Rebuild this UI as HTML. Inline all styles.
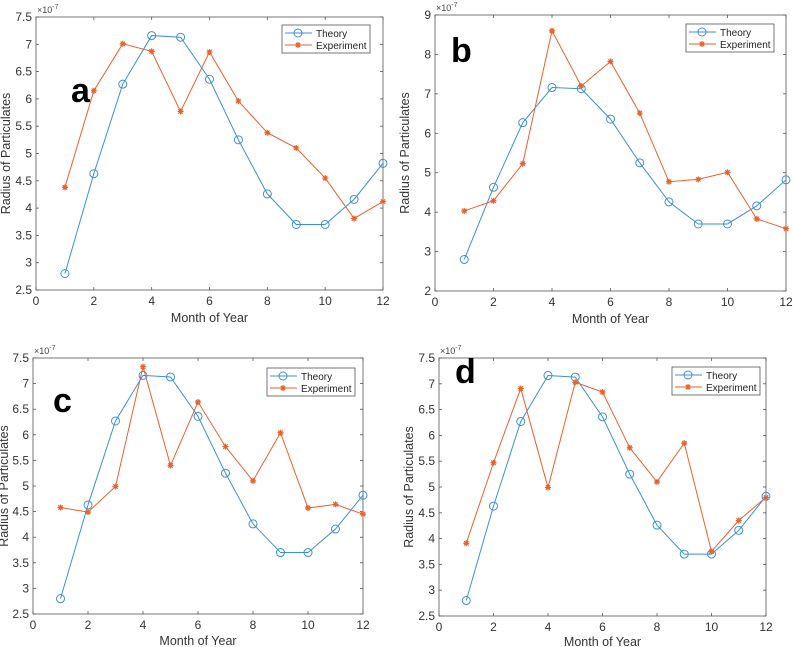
<!DOCTYPE html>
<html><head><meta charset="utf-8"><style>
body{margin:0;background:#fff;width:793px;height:647px;overflow:hidden;font-family:"Liberation Sans",sans-serif}
svg{position:absolute;left:0;top:0}
</style></head><body>
<svg id="chart" width="793" height="647" xmlns="http://www.w3.org/2000/svg"></svg>
<script>
const months=[1,2,3,4,5,6,7,8,9,10,11,12];
const xTicks=[0,2,4,6,8,10,12];
const theory=[2.8,4.63,6.27,7.16,7.13,6.36,5.25,4.26,3.7,3.7,4.16,4.82];
const expA=[4.38,6.15,7.01,6.87,5.77,6.86,5.96,5.38,5.1,4.55,3.81,4.12];
const expB=[4.03,4.29,5.23,8.6,7.2,7.82,6.51,4.77,4.83,5.01,3.83,3.58];
const expC=[4.58,4.49,4.99,7.33,5.4,6.64,5.77,5.1,6.04,4.57,4.64,4.45];
const expD=[3.91,5.47,6.91,4.99,7.03,6.84,5.76,5.1,5.85,3.75,4.35,4.8];
const yTicksA=[2.5,3,3.5,4,4.5,5,5.5,6,6.5,7,7.5];
const yTicksB=[2,3,4,5,6,7,8,9];
const panels=[
 {id:'a',exp:expA,yt:yTicksA,ymin:2.5,ymax:7.5,x0:36,x1:383,y0:17,y1:290,lg:[282,25],lb:[71,102],xt:317},
 {id:'b',exp:expB,yt:yTicksB,ymin:2,ymax:9,x0:435,x1:786,y0:15,y1:291,lg:[686,24],lb:[451,62],xt:318},
 {id:'c',exp:expC,yt:yTicksA,ymin:2.5,ymax:7.5,x0:33,x1:363,y0:358,y1:614,lg:[267,368],lb:[53,412],xt:640},
 {id:'d',exp:expD,yt:yTicksA,ymin:2.5,ymax:7.5,x0:439,x1:766,y0:358,y1:616,lg:[672,367],lb:[455,383],xt:641}
];
const svg=document.getElementById('chart');
const NS='http://www.w3.org/2000/svg';
function el(t,a,p){const e=document.createElementNS(NS,t);for(const k in a)e.setAttribute(k,a[k]);(p||svg).appendChild(e);return e;}
const BLUE='#3d8fd4',RED='#e8602c';
function star(g,x,y){
 el('path',{d:`M${x-3} ${y}H${x+3}M${x} ${y-3}V${y+3}M${x-2.2} ${y-2.2}L${x+2.2} ${y+2.2}M${x-2.2} ${y+2.2}L${x+2.2} ${y-2.2}`,stroke:RED,'stroke-width':1.2},g);
}
panels.forEach(p=>{
 const g=el('g',{});
 
 
 const sx=v=>p.x0+(v-0)/12*(p.x1-p.x0);
 const sy=v=>p.y1-(v-p.ymin)/(p.ymax-p.ymin)*(p.y1-p.y0);
 const box=el('rect',{x:p.x0,y:p.y0,width:p.x1-p.x0,height:p.y1-p.y0,fill:'none',stroke:'#555','stroke-width':0.8},g);
 
 
 xTicks.forEach(t=>{
  const x=sx(t);
  el('line',{x1:x,x2:x,y1:p.y1,y2:p.y1-3,stroke:'#555','stroke-width':0.8},g);
  el('line',{x1:x,x2:x,y1:p.y0,y2:p.y0+3,stroke:'#555','stroke-width':0.8},g);
  const tx=el('text',{x:x,y:p.y1+15,'font-size':12,'text-anchor':'middle',fill:'#333'},g);tx.textContent=t;
  
  
 });
 p.yt.forEach(t=>{
  const y=sy(t);
  el('line',{x1:p.x0,x2:p.x0+3,y1:y,y2:y,stroke:'#555','stroke-width':0.8},g);
  el('line',{x1:p.x1,x2:p.x1-3,y1:y,y2:y,stroke:'#555','stroke-width':0.8},g);
  const tx=el('text',{x:p.x0-4,y:y+4,'font-size':12,'text-anchor':'end',fill:'#333'},g);tx.textContent=t;
  
  
 });
 const ex=el('text',{x:p.x0+1,y:p.y0-4,'font-size':9,fill:'#444'},g);ex.innerHTML='×10<tspan dy="-4" font-size="7">-7</tspan>';
 
 
 const ytx=Math.max(p.x0-26,8);
 const yt=el('text',{x:0,y:0,'font-size':12.5,'text-anchor':'middle',fill:'#333',transform:`translate(${ytx},${(p.y0+p.y1)/2}) rotate(-90)`},g);yt.textContent='Radius of Particulates';
 
 
 const xt=el('text',{x:(p.x0+p.x1)/2,y:p.xt+5,'font-size':12.5,'text-anchor':'middle',fill:'#333'},g);xt.textContent='Month of Year';
 
 
 const lb=el('text',{x:p.lb[0],y:p.lb[1],'font-size':34,'font-weight':'bold',fill:'#000'},g);lb.textContent=p.id;
 
 
 const tl=el('polyline',{points:months.map((m,i)=>sx(m)+','+sy(theory[i])).join(' '),fill:'none',stroke:BLUE,'stroke-width':1},g);
 
 
 const elin=el('polyline',{points:months.map((m,i)=>sx(m)+','+sy(p.exp[i])).join(' '),fill:'none',stroke:RED,'stroke-width':1},g);
 
 
 months.forEach((m,i)=>{
  const c=el('circle',{cx:sx(m),cy:sy(theory[i]),r:4,fill:'none',stroke:BLUE,'stroke-width':1},g);
  
  
  star(g,sx(m),sy(p.exp[i]));
 });
 const lx=p.lg[0],ly=p.lg[1];
 const lg=el('g',{},g);
 
 
 el('rect',{x:lx,y:ly,width:88,height:28,fill:'#fff',stroke:'#555','stroke-width':0.8},lg);
 el('line',{x1:lx+3,x2:lx+30,y1:ly+8,y2:ly+8,stroke:BLUE},lg);
 el('circle',{cx:lx+16,cy:ly+8,r:4,fill:'none',stroke:BLUE},lg);
 el('line',{x1:lx+3,x2:lx+30,y1:ly+20,y2:ly+20,stroke:RED},lg);
 star(lg,lx+16,ly+20);
 const t1=el('text',{x:lx+34,y:ly+12,'font-size':10,fill:'#222'},lg);t1.textContent='Theory';
 
 
 const t2=el('text',{x:lx+34,y:ly+24,'font-size':10,fill:'#222'},lg);t2.textContent='Experiment';
 
 
});
</script>
</body></html>
